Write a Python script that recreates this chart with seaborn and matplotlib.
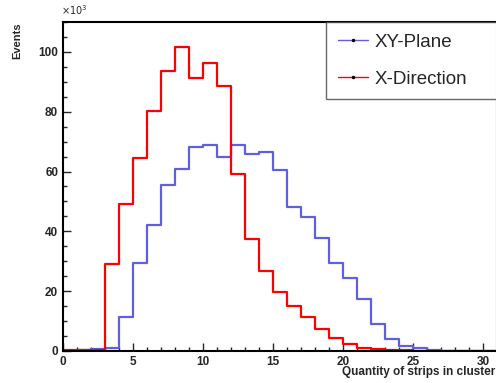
"""
strip multiplicity histogram
"""

import numpy as np
import pandas as pd
import seaborn as sns
import matplotlib.pyplot as plt
from matplotlib.lines import Line2D
from matplotlib.ticker import MultipleLocator

# one bin per strip count, 0..31
n_bins = 31
# events per bin, in units of 10^3
xy_plane = [0.0, 0.4, 0.7, 0.9, 11.5, 29.5, 42.1, 55.6, 60.9, 68.1, 68.9, 65.0,
            69.0, 65.8, 66.5, 60.5, 48.3, 44.7, 37.7, 29.5, 24.3, 17.3, 8.9,
            3.9, 1.8, 0.9, 0.4, 0.15, 0.1, 0.05, 0.03]
x_direction = [0.2, 0.2, 0.2, 29.0, 49.0, 64.4, 80.3, 93.6, 101.8, 91.3, 96.2,
               88.7, 59.3, 37.3, 26.9, 19.8, 15.0, 11.2, 7.2, 4.2, 2.3, 1.1,
               0.5, 0.3, 0.2, 0.1, 0.08, 0.05, 0.03, 0.02, 0.01]
labels = ["XY-Plane", "X-Direction"]
colors = ["#5f5fdf", "#ff0000"]

centers = np.arange(n_bins) + 0.5
df = pd.DataFrame({
    "strips": np.concatenate([centers, centers]),
    "events": np.concatenate([xy_plane, x_direction]),
    "series": [labels[0]] * n_bins + [labels[1]] * n_bins,
})

sns.set_style("ticks")
plt.rcParams["font.family"] = ["Liberation Sans", "DejaVu Sans"]

fig = plt.figure(figsize=(4.96, 3.83), dpi=100)
ax = fig.add_axes([0.127, 0.0836, 0.875, 0.859])

for lab, col in zip(labels, colors):
    sub = df[df.series == lab]
    sns.histplot(x=sub["strips"].values, weights=sub["events"].values,
                 binwidth=1, binrange=(0, n_bins), element="step", fill=False,
                 color=col, linewidth=1.6, ax=ax)

ax.set_xlim(0, 31)
ax.set_ylim(0, 110)
ax.xaxis.set_major_locator(MultipleLocator(5))
ax.xaxis.set_minor_locator(MultipleLocator(1))
ax.yaxis.set_major_locator(MultipleLocator(20))
ax.yaxis.set_minor_locator(MultipleLocator(5))
ax.tick_params(which="both", direction="in", top=False, right=False,
               labelsize=8.5, width=1)
ax.tick_params(which="major", length=6)
ax.tick_params(which="minor", length=3)
for t in ax.get_xticklabels() + ax.get_yticklabels():
    t.set_fontweight("bold")
for s in ax.spines.values():
    s.set_linewidth(1.5)
    s.set_color("black")

ax.set_xlabel("")
ax.set_ylabel("")
fig.text(0.999, 0.012, "Quantity of strips in cluster", ha="right", va="bottom",
         fontsize=8.5, fontweight="bold")
fig.text(0.035, 0.942, "Events", rotation=90, ha="center", va="top",
         fontsize=8, fontweight="bold")
fig.text(0.122, 0.955, r"$\times10^{3}$", ha="left", va="bottom", fontsize=7)

handles = [Line2D([0], [0], color=c, lw=1.0, marker="o", markersize=1.5,
                  markerfacecolor="black", markeredgecolor="black") for c in colors]
leg = ax.legend(handles, labels, loc="upper left",
                bbox_to_anchor=(0.606, 0.0, 0.5, 1.0), mode="expand",
                fontsize=13.5, frameon=True, fancybox=False, handlelength=1.6,
                labelspacing=1.05, borderpad=0.62, handletextpad=0.35,
                borderaxespad=0)
leg.get_frame().set_edgecolor("#444444")
leg.get_frame().set_linewidth(1)

fig.savefig("out.png", dpi=100)
